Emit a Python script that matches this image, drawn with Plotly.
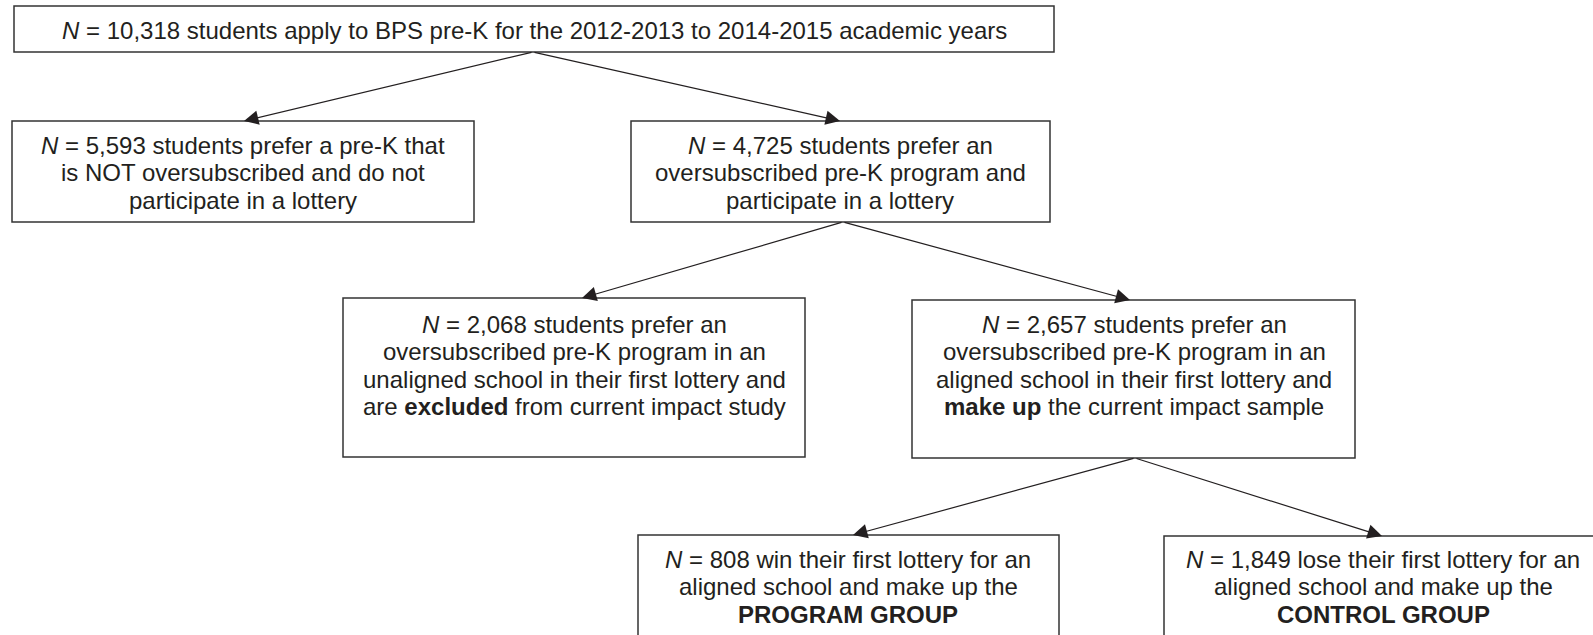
import plotly.graph_objects as go

# ---- content ----
box_ids = ["top", "A", "B", "C", "D", "E", "F"]
box_lines = [
    ["<i>N</i> = 10,318 students apply to BPS pre-K for the 2012-2013 to 2014-2015 academic years"],
    ["<i>N</i> = 5,593 students prefer a pre-K that", "is NOT oversubscribed and do not",
     "participate in a lottery"],
    ["<i>N</i> = 4,725 students prefer an", "oversubscribed pre-K program and",
     "participate in a lottery"],
    ["<i>N</i> = 2,068 students prefer an", "oversubscribed pre-K program in an",
     "unaligned school in their first lottery and",
     "are <b>excluded</b> from current impact study"],
    ["<i>N</i> = 2,657 students prefer an", "oversubscribed pre-K program in an",
     "aligned school in their first lottery and",
     "<b>make up</b> the current impact sample"],
    ["<i>N</i> = 808 win their first lottery for an", "aligned school and make up the",
     "<b>PROGRAM GROUP</b>"],
    ["<i>N</i> = 1,849 lose their first lottery for an", "aligned school and make up the",
     "<b>CONTROL GROUP</b>"],
]
edges_from = ["top", "top", "B", "B", "D", "D"]
edges_to = ["A", "B", "C", "D", "E", "F"]

# ---- layout geometry (pixels) ----
box_x0 = [14, 12, 631, 343, 912, 638, 1164]
box_x1 = [1054, 474, 1050, 805, 1355, 1059, 1600]
box_y0 = [6, 121, 121, 298, 300, 535, 536]
box_y1 = [52, 222, 222, 457, 458, 645, 645]
text_cx = [534, 243, 840, 574, 1134, 848, 1383]
first_line_y = [30, 145, 145, 324, 324, 559, 559]
LINE_STEP = 27.6
edge_start = {"top": (533, 52), "B": (843, 222), "D": (1135, 458)}
edge_end = {"A": (244, 121), "B": (840, 121), "C": (582, 298),
            "D": (1130, 300), "E": (853, 535), "F": (1382, 536)}

W, H = 1593, 635
FONT = "Arial, Liberation Sans, Helvetica, sans-serif"
TXT = "#231f20"

fig = go.Figure()
fig.add_trace(go.Scatter(x=[0, W], y=[0, H], mode="markers",
                         marker=dict(opacity=0), hoverinfo="skip", showlegend=False))

shapes = []
annotations = []
for i, bid in enumerate(box_ids):
    shapes.append(dict(type="rect", xref="x", yref="y",
                       x0=box_x0[i], x1=box_x1[i], y0=box_y0[i], y1=box_y1[i],
                       line=dict(color="#333333", width=1.5), fillcolor="white", layer="below"))
    for k, line in enumerate(box_lines[i]):
        annotations.append(dict(x=text_cx[i], y=first_line_y[i] + k * LINE_STEP,
                                xref="x", yref="y", text=line,
                                showarrow=False, xanchor="center", yanchor="middle",
                                font=dict(family=FONT, size=24, color=TXT)))

for f, t in zip(edges_from, edges_to):
    sx, sy = edge_start[f]
    ex, ey = edge_end[t]
    annotations.append(dict(x=ex, y=ey, ax=sx, ay=sy, xref="x", yref="y", axref="x", ayref="y",
                            text="", showarrow=True, arrowhead=2, arrowsize=2.4, arrowwidth=1.2,
                            arrowcolor="#231f20", standoff=0))

fig.update_layout(
    width=W, height=H, margin=dict(l=0, r=0, t=0, b=0),
    paper_bgcolor="white", plot_bgcolor="white",
    xaxis=dict(range=[0, W], visible=False, fixedrange=True),
    yaxis=dict(range=[H, 0], visible=False, fixedrange=True),
    shapes=shapes, annotations=annotations, showlegend=False,
)
fig.write_html("out.html", config={"displayModeBar": False},
               post_script="document.body.style.margin='0';document.body.style.overflow='hidden';")
